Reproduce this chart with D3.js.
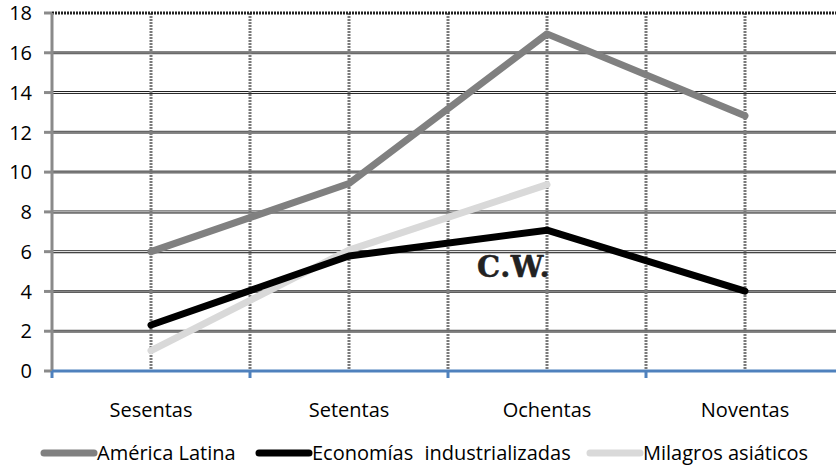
<!DOCTYPE html>
<html>
<head>
<meta charset="utf-8">
<script src="https://cdn.jsdelivr.net/npm/d3@7"></script>
<style>
  body { margin: 0; background: #fff; }
  svg { display: block; font-family: "Open Sans", sans-serif; }
</style>
</head>
<body>
<svg id="canvas" width="836" height="469"></svg>
<script>
const categories = ['Sesentas', 'Setentas', 'Ochentas', 'Noventas']
const americaLatina = [6.0, 9.43, 16.95, 12.83]
const economias = [2.31, 5.78, 7.08, 4.02]
const milagros = [1.02, 6.08, 9.37]
const yTicks = [0, 2, 4, 6, 8, 10, 12, 14, 16, 18]
const seriesNames = ['América Latina', 'Economías industrializadas', 'Milagros asiáticos']

const svg = d3.select('#canvas')
const plotLeft = 52, plotRight = 844, plotTop = 13, plotBottom = 371

const x = d3.scaleBand().domain(categories).range([plotLeft, plotRight]).padding(0)
const y = d3.scaleLinear().domain([0, 18]).range([plotBottom, plotTop])
const cx = d => x(d) + x.bandwidth() / 2

// horizontal grid (scanned look: dark edges, lighter middle)
const doubled = [6, 8, 14]
const grid = svg.append('g')
const inner = yTicks.filter(d => d > 0 && d < 18)
grid.selectAll('line.h')
    .data(inner)
    .enter()
    .append('line')
    .attr('x1', plotLeft).attr('x2', 836)
    .attr('y1', d => y(d)).attr('y2', d => y(d))
    .attr('stroke', d => doubled.includes(d) ? '#222' : '#5e5e5e')
    .attr('stroke-width', 3)
grid.selectAll('line.hc')
    .data(inner)
    .enter()
    .append('line')
    .attr('x1', plotLeft).attr('x2', 836)
    .attr('y1', d => y(d)).attr('y2', d => y(d))
    .attr('stroke', d => doubled.includes(d) ? '#fff' : '#888')
    .attr('stroke-width', 1)

// top border dotted
svg.append('line')
    .attr('x1', plotLeft).attr('x2', 836)
    .attr('y1', y(18)).attr('y2', y(18))
    .attr('stroke', '#222').attr('stroke-width', 3)
    .attr('stroke-dasharray', '2,1')

// vertical dotted grid at band edges and centers
const vx = []
categories.forEach(c => { vx.push(x(c)); vx.push(cx(c)) })
grid.selectAll('line.v')
    .data(vx.filter(v => v > plotLeft))
    .enter()
    .append('line')
    .attr('x1', d => d).attr('x2', d => d)
    .attr('y1', plotTop).attr('y2', plotBottom)
    .attr('stroke', '#7a7a7a')
    .attr('stroke-width', 3)
    .attr('stroke-dasharray', '2,1')

// y axis
svg.append('line')
    .attr('x1', plotLeft).attr('x2', plotLeft)
    .attr('y1', plotTop).attr('y2', plotBottom)
    .attr('stroke', '#8a8a8a').attr('stroke-width', 3)
svg.selectAll('line.yt')
    .data(yTicks)
    .enter()
    .append('line')
    .attr('x1', 44).attr('x2', plotLeft)
    .attr('y1', d => y(d)).attr('y2', d => y(d))
    .attr('stroke', '#8a8a8a').attr('stroke-width', 3)
svg.selectAll('text.yl')
    .data(yTicks)
    .enter()
    .append('text')
    .attr('x', 32)
    .attr('y', d => y(d))
    .attr('dy', '0.36em')
    .attr('text-anchor', 'end')
    .attr('font-size', 20)
    .attr('fill', '#000')
    .text(d => d)

// x axis (blue)
svg.append('line')
    .attr('x1', plotLeft).attr('x2', 836)
    .attr('y1', plotBottom).attr('y2', plotBottom)
    .attr('stroke', '#4f81bd').attr('stroke-width', 3)
svg.selectAll('line.xt')
    .data(categories.map(c => x(c)).concat([plotRight]))
    .enter()
    .append('line')
    .attr('x1', d => d).attr('x2', d => d)
    .attr('y1', plotBottom).attr('y2', plotBottom + 7)
    .attr('stroke', '#4f81bd').attr('stroke-width', 3)
svg.selectAll('text.xl')
    .data(categories)
    .enter()
    .append('text')
    .attr('x', d => cx(d))
    .attr('y', 410)
    .attr('dy', '0.36em')
    .attr('text-anchor', 'middle')
    .attr('font-size', 20)
    .text(d => d)

// series
const series = [
    {name: seriesNames[0], values: americaLatina, color: '#808080'},
    {name: seriesNames[1], values: economias, color: '#000000'},
    {name: seriesNames[2], values: milagros, color: '#d9d9d9'}
]
const line = d3.line()
    .x((d, i) => cx(categories[i]))
    .y(d => y(d))

svg.selectAll('path.s')
    .data([series[2], series[1], series[0]])
    .enter()
    .append('path')
    .attr('d', d => line(d.values))
    .attr('fill', 'none')
    .attr('stroke', d => d.color)
    .attr('stroke-width', 7)
    .attr('stroke-linejoin', 'round')
    .attr('stroke-linecap', 'round')

// watermark
svg.append('text')
    .attr('x', 477).attr('y', 277)
    .attr('font-family', '"DejaVu Serif", serif')
    .attr('font-weight', 'bold')
    .attr('font-size', 29)
    .attr('letter-spacing', 0.6)
    .attr('fill', '#222')
    .attr('stroke', '#222')
    .attr('stroke-width', 0.5)
    .text('C.W.')

// legend
const legendX = [44, 259, 590]
const leg = svg.selectAll('g.leg')
    .data(series)
    .enter()
    .append('g')
    .attr('transform', (d, i) => `translate(${legendX[i]},453)`)
leg.append('line')
    .attr('x1', 0).attr('x2', 50)
    .attr('y1', 0).attr('y2', 0)
    .attr('stroke', d => d.color)
    .attr('stroke-width', 7)
    .attr('stroke-linecap', 'round')
leg.append('text')
    .attr('x', 53)
    .attr('dy', '0.36em')
    .attr('font-size', 20)
    .attr('word-spacing', (d, i) => i === 1 ? 6 : 0)
    .text(d => d.name)
</script>
</body>
</html>
